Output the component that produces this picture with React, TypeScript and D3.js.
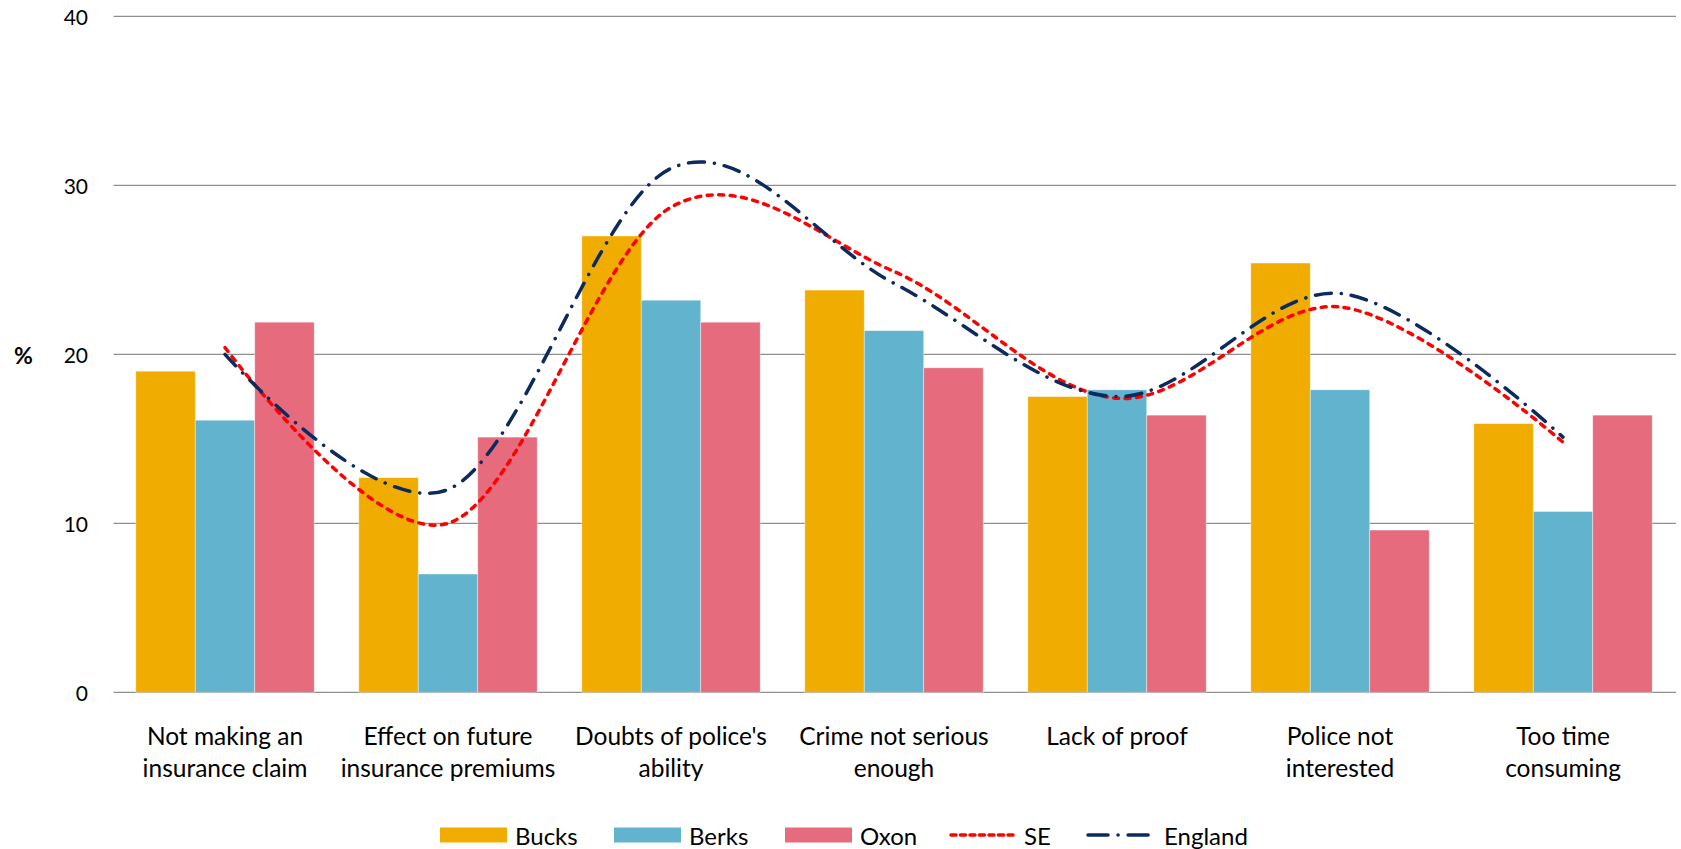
import React from "react";
import * as d3 from "d3";

const categories: string[][] = [
  ["Not making an", "insurance claim"],
  ["Effect on future", "insurance premiums"],
  ["Doubts of police's", "ability"],
  ["Crime not serious", "enough"],
  ["Lack of proof"],
  ["Police not", "interested"],
  ["Too time", "consuming"],
];
const bucks = [19.0, 12.7, 27.0, 23.8, 17.5, 25.4, 15.9];
const berks = [16.1, 7.0, 23.2, 21.4, 17.9, 17.9, 10.7];
const oxon = [21.9, 15.1, 21.9, 19.2, 16.4, 9.6, 16.4];
const se = [20.4, 10.0, 28.7, 24.9, 17.4, 22.8, 14.8];
const england = [20.0, 12.0, 31.0, 24.2, 17.5, 23.6, 15.1];
const yTicks = [0, 10, 20, 30, 40];
const barSeries = ["Bucks", "Berks", "Oxon"];
const lineSeries = ["SE", "England"];

const W = 1681;
const H = 849;
const FONT = "Lato, 'Open Sans', sans-serif";
const colors: Record<string, string> = {
  Bucks: "#F0AC00",
  Berks: "#62B3CD",
  Oxon: "#E56B7D",
  SE: "#FF0000",
  England: "#0D2A5F",
};

export default function App() {
  const x = d3
    .scaleBand<number>()
    .domain(d3.range(categories.length))
    .range([113.5, 1674.5])
    .paddingInner(0.2)
    .paddingOuter(0.1);
  const xs = d3.scaleBand<string>().domain(barSeries).range([0, x.bandwidth()]);
  const y = d3.scaleLinear().domain([0, 40]).range([692.3, 16.3]);
  const barData: Record<string, number[]> = { Bucks: bucks, Berks: berks, Oxon: oxon };
  const lineData: Record<string, number[]> = { SE: se, England: england };
  const line = d3
    .line<number>()
    .x((_, i) => (x(i) as number) + x.bandwidth() / 2)
    .y((v) => y(v))
    .curve(d3.curveCardinal.tension(0));

  const dash: Record<string, string> = { SE: "5 6.5", England: "16 10 0.1 10" };
  const legendX = [440, 614, 785, 949, 1086];
  const legendItems = [...barSeries, ...lineSeries];

  return (
    <svg
      width={W}
      height={H}
      style={{ position: "absolute", left: 0, top: 0, background: "#fff" }}
      fontFamily={FONT}
    >
      {yTicks.map((t) => (
        <g key={t}>
          <line x1={113.5} x2={1676} y1={y(t)} y2={y(t)} stroke="#8f8f8f" strokeWidth={1.3} />
          <text x={88} y={y(t)} textAnchor="end" dominantBaseline="central" fontSize={21} fill="#000">
            {t}
          </text>
        </g>
      ))}
      <text x={14} y={355} dominantBaseline="central" fontSize={23} fontWeight="bold" fill="#000">
        %
      </text>
      {barSeries.map((s) =>
        barData[s].map((v, i) => (
          <rect
            key={s + i}
            x={(x(i) as number) + (xs(s) as number)}
            y={y(v)}
            width={xs.bandwidth()}
            height={y(0) - y(v)}
            fill={colors[s]}
            stroke="#ffffff"
            strokeOpacity={0.5}
            strokeWidth={0.8}
          />
        ))
      )}
      {lineSeries.map((s) => (
        <path
          key={s}
          d={line(lineData[s]) || ""}
          fill="none"
          stroke={colors[s]}
          strokeWidth={3.5}
          strokeDasharray={dash[s]}
          strokeLinecap="round"
        />
      ))}
      {categories.map((lines, i) => (
        <text
          key={i}
          x={(x(i) as number) + x.bandwidth() / 2}
          textAnchor="middle"
          fontSize={24.5}
          fill="#000"
        >
          {lines.map((l, j) => (
            <tspan key={j} x={(x(i) as number) + x.bandwidth() / 2} y={735 + j * 32} dominantBaseline="central">
              {l}
            </tspan>
          ))}
        </text>
      ))}
      {legendItems.map((s, k) => (
        <g key={s} transform={`translate(${legendX[k]},835)`}>
          {k < 3 ? (
            <rect x={0} y={-7.5} width={67} height={15} fill={colors[s]} />
          ) : (
            <line
              x1={2}
              x2={66}
              y1={0}
              y2={0}
              stroke={colors[s]}
              strokeWidth={3.5}
              strokeDasharray={s === "SE" ? "5 4.5" : "20 10 0.1 10"}
              strokeLinecap="round"
            />
          )}
          <text x={k < 4 ? 75 : 78} y={0} dominantBaseline="central" fontSize={24} fill="#000">
            {s}
          </text>
        </g>
      ))}
    </svg>
  );
}
